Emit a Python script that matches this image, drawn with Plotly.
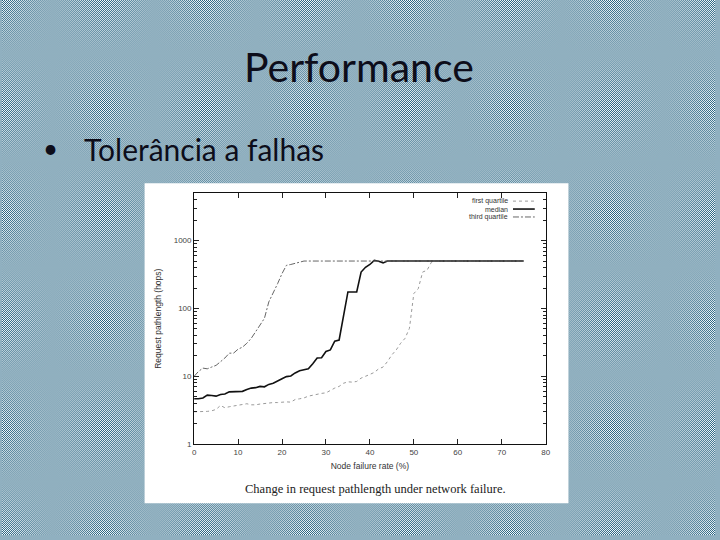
import base64
import plotly.graph_objects as go

# ---- data ----
failure_rate = list(range(0, 76))

third_quartile_head = [10, 11.8, 13.2, 12.9, 13.7, 14.5, 16.4, 18.6, 21.9, 22, 25.1, 26.9, 30.7, 36.3,
                       45.4, 57, 71.5, 125, 166, 232, 326, 432, 445, 465, 480]
median_head = [4.66, 4.66, 4.8, 5.27, 5.2, 5.1, 5.4, 5.5, 5.9, 5.9, 6.0, 6.0, 6.4, 6.7, 6.8, 7.1, 7.0,
               7.6, 7.9, 8.6, 9.2, 9.9, 10.1, 11.2, 12.1, 12.5, 12.9, 15.3, 18.6, 18.8, 23.2, 24.5, 33,
               34.3, 75, 175, 175, 175, 344, 405, 445, 510, 495, 470]
first_quartile_head = [3.0, 3.0, 2.97, 3.04, 3.1, 3.25, 3.72, 3.44, 3.56, 3.64, 3.72, 3.8, 3.94, 3.8, 3.8,
                       3.9, 3.98, 4.0, 4.1, 4.1, 4.16, 4.2, 4.16, 4.55, 4.66, 4.8, 5.1, 5.3, 5.4, 5.6, 5.7,
                       6.2, 6.7, 7.1, 7.9, 8.3, 8.2, 8.4, 9.4, 10, 10.8, 11.4, 12.9, 13.7, 16.5, 20.7,
                       24.5, 30.7, 36.3, 51, 166, 195, 344, 365, 480]
plateau = 500

third_quartile = third_quartile_head + [plateau] * (len(failure_rate) - len(third_quartile_head))
median = median_head + [plateau] * (len(failure_rate) - len(median_head))
first_quartile = first_quartile_head + [plateau] * (len(failure_rate) - len(first_quartile_head))

x_ticks = [0, 10, 20, 30, 40, 50, 60, 70, 80]
y_ticks = [1, 10, 100, 1000]
y_minor = [m * 10 ** e for e in range(0, 4) for m in range(2, 10) if m * 10 ** e <= 5000]

W, H = 720, 540
def px(x):
    return x / W
def py(y):
    return 1 - y / H

# ---- checkerboard slide background ----
svg = ("<svg xmlns='http://www.w3.org/2000/svg' width='720' height='540' shape-rendering='crispEdges'>"
       "<defs><pattern id='p' width='2' height='2' patternUnits='userSpaceOnUse'>"
       "<rect width='2' height='2' fill='#ffffff'/>"
       "<rect width='1' height='1' fill='#21607f'/>"
       "<rect x='1' y='1' width='1' height='1' fill='#21607f'/>"
       "</pattern></defs><rect width='720' height='540' fill='url(#p)'/></svg>")
bg_src = "data:image/svg+xml;base64," + base64.b64encode(svg.encode()).decode()

fig = go.Figure()
fig.add_trace(go.Scatter(x=failure_rate, y=first_quartile, mode="lines", name="first quartile",
                         line=dict(color="#9a9a9a", width=1, dash="dot")))
fig.add_trace(go.Scatter(x=failure_rate, y=median, mode="lines", name="median",
                         line=dict(color="#111111", width=1.6)))
fig.add_trace(go.Scatter(x=failure_rate, y=third_quartile, mode="lines", name="third quartile",
                         line=dict(color="#666666", width=1, dash="6px,2px,2px,2px")))

axis_font = dict(family="Liberation Sans, Arial, sans-serif", size=8, color="#444444")

fig.update_xaxes(domain=[px(194), px(549)], range=[0, 80], tickvals=x_ticks,
                 ticks="inside", ticklen=5, tickcolor="#222", mirror="ticks",
                 showline=True, linecolor="#111", linewidth=1, showgrid=False, zeroline=False,
                 tickfont=axis_font,
                 title=dict(text="Node failure rate (%)", font=dict(family="Liberation Sans, Arial", size=8.5, color="#333"),
                            standoff=7))
fig.update_yaxes(domain=[py(448.3), py(195)], type="log", range=[0, 3.699], tickvals=y_ticks,
                 ticktext=[str(v) for v in y_ticks],
                 ticks="inside", ticklen=5, tickcolor="#222", mirror="ticks",
                 minor=dict(ticks="inside", ticklen=2.5, tickvals=y_minor, tickcolor="#222", showgrid=False),
                 showline=True, linecolor="#111", linewidth=1, showgrid=False, zeroline=False,
                 tickfont=axis_font,
                 title=dict(text="Request pathlength (hops)", font=dict(family="Liberation Sans, Arial", size=8.5, color="#333"),
                            standoff=10))

# white picture area behind the chart
shapes = [dict(type="rect", xref="paper", yref="paper", x0=px(144), x1=px(572), y0=py(508), y1=py(185),
               fillcolor="white", line=dict(width=0), layer="below")]

# legend (text left, sample right, as in the original)
legend_rows = [("first quartile", dict(color="#9a9a9a", width=1, dash="dot"), 203.0),
               ("median", dict(color="#111111", width=1.6), 211),
               ("third quartile", dict(color="#666666", width=1, dash="6px,2px,2px,2px"), 219.0)]
annotations = []
for label, ln, yy in legend_rows:
    annotations.append(dict(text=label, xref="paper", yref="paper", x=px(512), y=py(yy),
                            xanchor="right", yanchor="middle", showarrow=False, borderpad=0,
                            font=dict(family="Liberation Sans, Arial", size=7, color="#333")))
    shapes.append(dict(type="line", xref="paper", yref="paper", x0=px(516), x1=px(538),
                       y0=py(yy), y1=py(yy), line=ln))

annotations += [
    dict(text="Performance", xref="paper", yref="paper", x=px(360), y=py(67), xanchor="center", yanchor="middle",
         showarrow=False, font=dict(family="Lato, Carlito, sans-serif", size=41, color="#0d0d1a")),
    dict(text="•", xref="paper", yref="paper", x=px(49), y=py(149), xanchor="center", yanchor="middle",
         showarrow=False, font=dict(family="Lato, sans-serif", size=26, color="#0d0d1a")),
    dict(text="Tolerância a falhas", xref="paper", yref="paper", x=px(81), y=py(150), xanchor="left",
         yanchor="middle", showarrow=False, font=dict(family="Lato, Carlito, sans-serif", size=30, color="#0d0d1a")),
    dict(text="Change in request pathlength under network failure.", xref="paper", yref="paper",
         x=px(377), y=py(494), xanchor="center", yanchor="middle", showarrow=False,
         font=dict(family="Liberation Serif, DejaVu Serif, serif", size=12.5, color="#222")),
]

fig.update_layout(
    width=W, height=H, margin=dict(l=0, r=0, t=0, b=0),
    paper_bgcolor="#90b0c0", plot_bgcolor="rgba(0,0,0,0)",
    showlegend=False,
    images=[dict(source=bg_src, xref="paper", yref="paper", x=0, y=1, sizex=1, sizey=1,
                 xanchor="left", yanchor="top", sizing="stretch", layer="below")],
    shapes=shapes, annotations=annotations,
)

fig.write_html("out.html", config={"displayModeBar": False},
               post_script="document.body.style.margin='0';document.body.style.padding='0';document.body.style.overflow='hidden';")
